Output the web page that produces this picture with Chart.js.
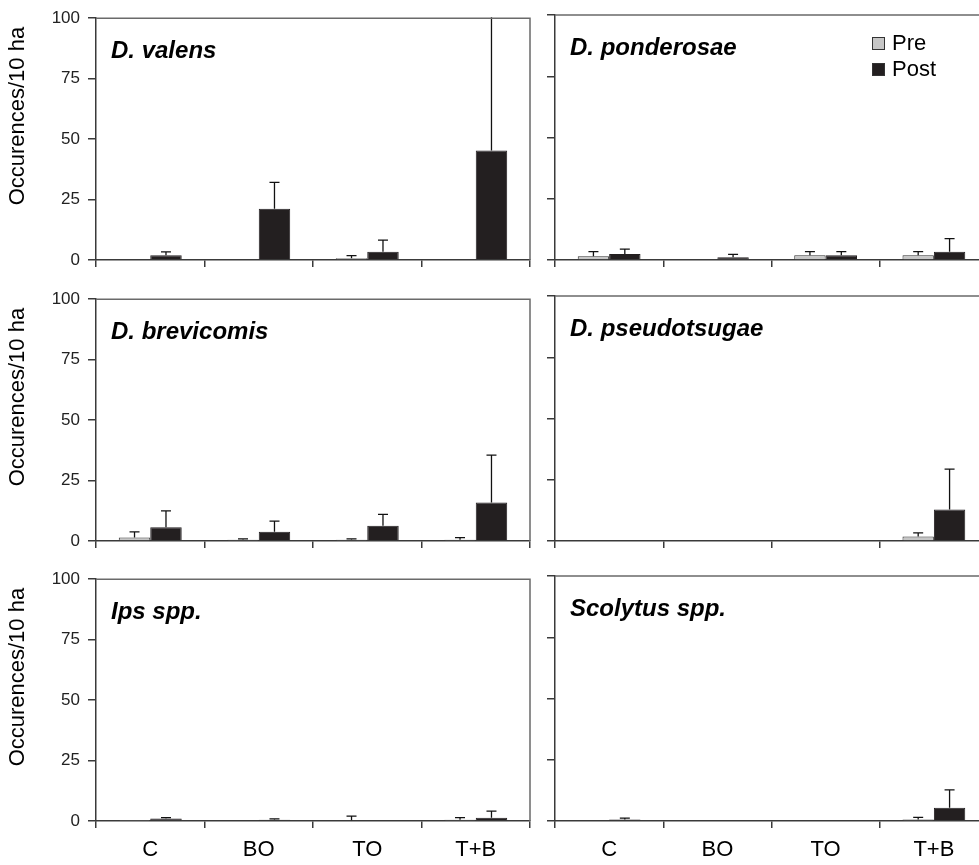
<!DOCTYPE html>
<html>
<head>
<meta charset="utf-8">
<script src="https://cdn.jsdelivr.net/npm/chart.js@4.4.1/dist/chart.umd.min.js"></script>
<style>
  body { margin: 0; background: #fff; overflow: hidden; }
  #wrap { position: relative; width: 979px; height: 865px; overflow: hidden; background: #fff; }
  #wrap canvas { position: absolute; }
</style>
</head>
<body>
<div id="wrap"></div>
<script>
// treatment categories and tick labels
const categories = ["C", "BO", "TO", "T+B"];
const yTicks = [0, 25, 50, 75, 100];
const seriesNames = ["Pre", "Post"];

// D. valens
const valensPre = [0, 0, 0.7, 0];
const valensPreErr = [0, 0, 1.1, 0];
const valensPost = [2.0, 21.2, 3.4, 45.3];
const valensPostErr = [1.4, 10.9, 4.8, 60];

// D. ponderosae
const ponderosaePre = [1.5, 0, 1.9, 1.9];
const ponderosaePreErr = [1.9, 0, 1.5, 1.5];
const ponderosaePost = [2.4, 1.1, 1.9, 3.4];
const ponderosaePostErr = [2.0, 1.2, 1.5, 5.3];

// D. brevicomis
const brevicomisPre = [1.4, 0.5, 0.5, 0.5];
const brevicomisPreErr = [2.4, 0.4, 0.4, 0.9];
const brevicomisPost = [5.7, 3.8, 6.3, 15.9];
const brevicomisPostErr = [6.8, 4.4, 4.7, 19.6];

// D. pseudotsugae
const pseudotsugaePre = [0, 0, 0, 1.8];
const pseudotsugaePreErr = [0, 0, 0, 1.5];
const pseudotsugaePost = [0, 0, 0, 12.9];
const pseudotsugaePostErr = [0, 0, 0, 16.4];

// Ips spp.
const ipsPre = [0.1, 0, 0.3, 0.5];
const ipsPreErr = [0, 0, 1.7, 0.9];
const ipsPost = [1.0, 0.5, 0, 1.3];
const ipsPostErr = [0.4, 0.4, 0, 2.8];

// Scolytus spp.
const scolytusPre = [0, 0, 0, 0.6];
const scolytusPreErr = [0, 0, 0, 0.9];
const scolytusPost = [0.6, 0, 0, 5.4];
const scolytusPostErr = [0.6, 0, 0, 7.3];

const FONT = 'Arial, "Liberation Sans", sans-serif';
const axisColor = "#3a3a3a";

// draws the error bars, panel name, frame, y title and legend
const panelDecor = {
  id: "panelDecor",
  afterDatasetsDraw(chart) {
    const ctx = chart.ctx;
    const area = chart.chartArea;
    const y = chart.scales.y;
    ctx.save();
    ctx.beginPath();
    ctx.rect(area.left, area.top - 1, area.right - area.left, area.bottom - area.top + 1);
    ctx.clip();
    ctx.strokeStyle = "#111";
    ctx.lineWidth = 1.3;
    chart.data.datasets.forEach((ds, i) => {
      const meta = chart.getDatasetMeta(i);
      meta.data.forEach((bar, j) => {
        const err = ds.err[j];
        if (!err) return;
        const top = y.getPixelForValue(ds.data[j] + err);
        ctx.beginPath();
        ctx.moveTo(bar.x, bar.y);
        ctx.lineTo(bar.x, top);
        ctx.moveTo(bar.x - 5, top);
        ctx.lineTo(bar.x + 5, top);
        ctx.stroke();
      });
    });
    ctx.restore();
  },
  afterDraw(chart, args, opts) {
    const ctx = chart.ctx;
    const area = chart.chartArea;
    ctx.save();
    // top and right frame
    ctx.strokeStyle = "#6a6a6a";
    ctx.lineWidth = 1.5;
    ctx.beginPath();
    ctx.moveTo(area.left, area.top);
    ctx.lineTo(area.right, area.top);
    ctx.lineTo(area.right, area.bottom);
    ctx.stroke();

    ctx.fillStyle = "#000";
    ctx.font = "italic bold 24px " + FONT;
    ctx.textAlign = "left";
    ctx.textBaseline = "alphabetic";
    ctx.fillText(opts.label, area.left + 15, area.top + 40);

    if (opts.yTitle) {
      ctx.save();
      ctx.translate(18, (area.top + area.bottom) / 2 - 23);
      ctx.rotate(-Math.PI / 2);
      ctx.font = "22px " + FONT;
      ctx.textAlign = "center";
      ctx.textBaseline = "middle";
      ctx.fillText(opts.yTitle, 0, 0);
      ctx.restore();
    }

    if (opts.legend) {
      const ds = chart.data.datasets;
      ds.forEach((d, i) => {
        const bx = area.left + 317;
        const by = area.top + 22 + i * 26;
        ctx.fillStyle = d.backgroundColor;
        ctx.fillRect(bx, by, 13, 13);
        ctx.strokeStyle = "#333";
        ctx.lineWidth = 1;
        ctx.strokeRect(bx + 0.5, by + 0.5, 12, 12);
        ctx.fillStyle = "#000";
        ctx.font = "22px " + FONT;
        ctx.textBaseline = "middle";
        ctx.fillText(d.label, bx + 20, by + 7);
      });
    }
    ctx.restore();
  }
};

function makePanel(opts) {
  const wrap = document.getElementById("wrap");
  const canvas = document.createElement("canvas");
  canvas.width = opts.w;
  canvas.height = opts.h;
  canvas.style.left = opts.x + "px";
  canvas.style.top = opts.y + "px";
  wrap.appendChild(canvas);

  new Chart(canvas, {
    type: "bar",
    data: {
      labels: categories,
      datasets: [
        {
          label: seriesNames[0],
          data: opts.pre,
          err: opts.preErr,
          backgroundColor: "#c6c6c6",
          borderColor: "#333",
          borderWidth: 1
        },
        {
          label: seriesNames[1],
          data: opts.post,
          err: opts.postErr,
          backgroundColor: "#231f20",
          borderColor: "#231f20",
          borderWidth: 1
        }
      ]
    },
    options: {
      responsive: false,
      animation: false,
      devicePixelRatio: 1,
      categoryPercentage: 0.58,
      barPercentage: 1,
      layout: { padding: { left: 0, top: 15, right: opts.padRight, bottom: 0 } },
      plugins: {
        legend: { display: false },
        tooltip: { enabled: false },
        panelDecor: { label: opts.label, yTitle: opts.yTitle, legend: opts.legend }
      },
      scales: {
        x: {
          grid: { drawOnChartArea: false, drawTicks: true, tickLength: 7, color: axisColor, lineWidth: 1.5, offset: true },
          border: { display: true, color: axisColor, width: 1.5 },
          ticks: { display: opts.xLabels, color: "#000", font: { family: FONT, size: 22 }, padding: 9 },
          afterFit: (s) => { s.height = opts.xH; }
        },
        y: {
          min: 0,
          max: 100,
          afterBuildTicks: (s) => { s.ticks = yTicks.map((v) => ({ value: v })); },
          grid: { drawOnChartArea: false, drawTicks: true, tickLength: 8, color: axisColor, lineWidth: 1.5 },
          border: { display: true, color: axisColor, width: 1.5 },
          ticks: { display: opts.yLabels, color: "#222", font: { family: FONT, size: 17 }, padding: 8 },
          afterFit: (s) => { s.width = opts.yW; }
        }
      }
    },
    plugins: [panelDecor]
  });
}

const rowTops = [0, 281, 561];
const yTitle = "Occurences/10 ha";

const panels = [
  { label: "D. valens", pre: valensPre, preErr: valensPreErr, post: valensPost, postErr: valensPostErr },
  { label: "D. ponderosae", pre: ponderosaePre, preErr: ponderosaePreErr, post: ponderosaePost, postErr: ponderosaePostErr, legend: true },
  { label: "D. brevicomis", pre: brevicomisPre, preErr: brevicomisPreErr, post: brevicomisPost, postErr: brevicomisPostErr },
  { label: "D. pseudotsugae", pre: pseudotsugaePre, preErr: pseudotsugaePreErr, post: pseudotsugaePost, postErr: pseudotsugaePostErr },
  { label: "Ips spp.", pre: ipsPre, preErr: ipsPreErr, post: ipsPost, postErr: ipsPostErr },
  { label: "Scolytus spp.", pre: scolytusPre, preErr: scolytusPreErr, post: scolytusPost, postErr: scolytusPostErr }
];

panels.forEach((p, i) => {
  const row = Math.floor(i / 2);
  const left = i % 2 === 0;
  const last = row === 2;
  makePanel(Object.assign({}, p, {
    x: left ? 0 : 530,
    y: rowTops[row],
    w: left ? 545 : 460,
    h: last ? 304 : 280,
    padRight: left ? 15 : 2,
    yW: left ? 96 : 25,
    xH: last ? 44 : 20,
    xLabels: last,
    yLabels: left,
    yTitle: left ? yTitle : null,
    legend: !!p.legend
  }));
});
</script>
</body>
</html>
